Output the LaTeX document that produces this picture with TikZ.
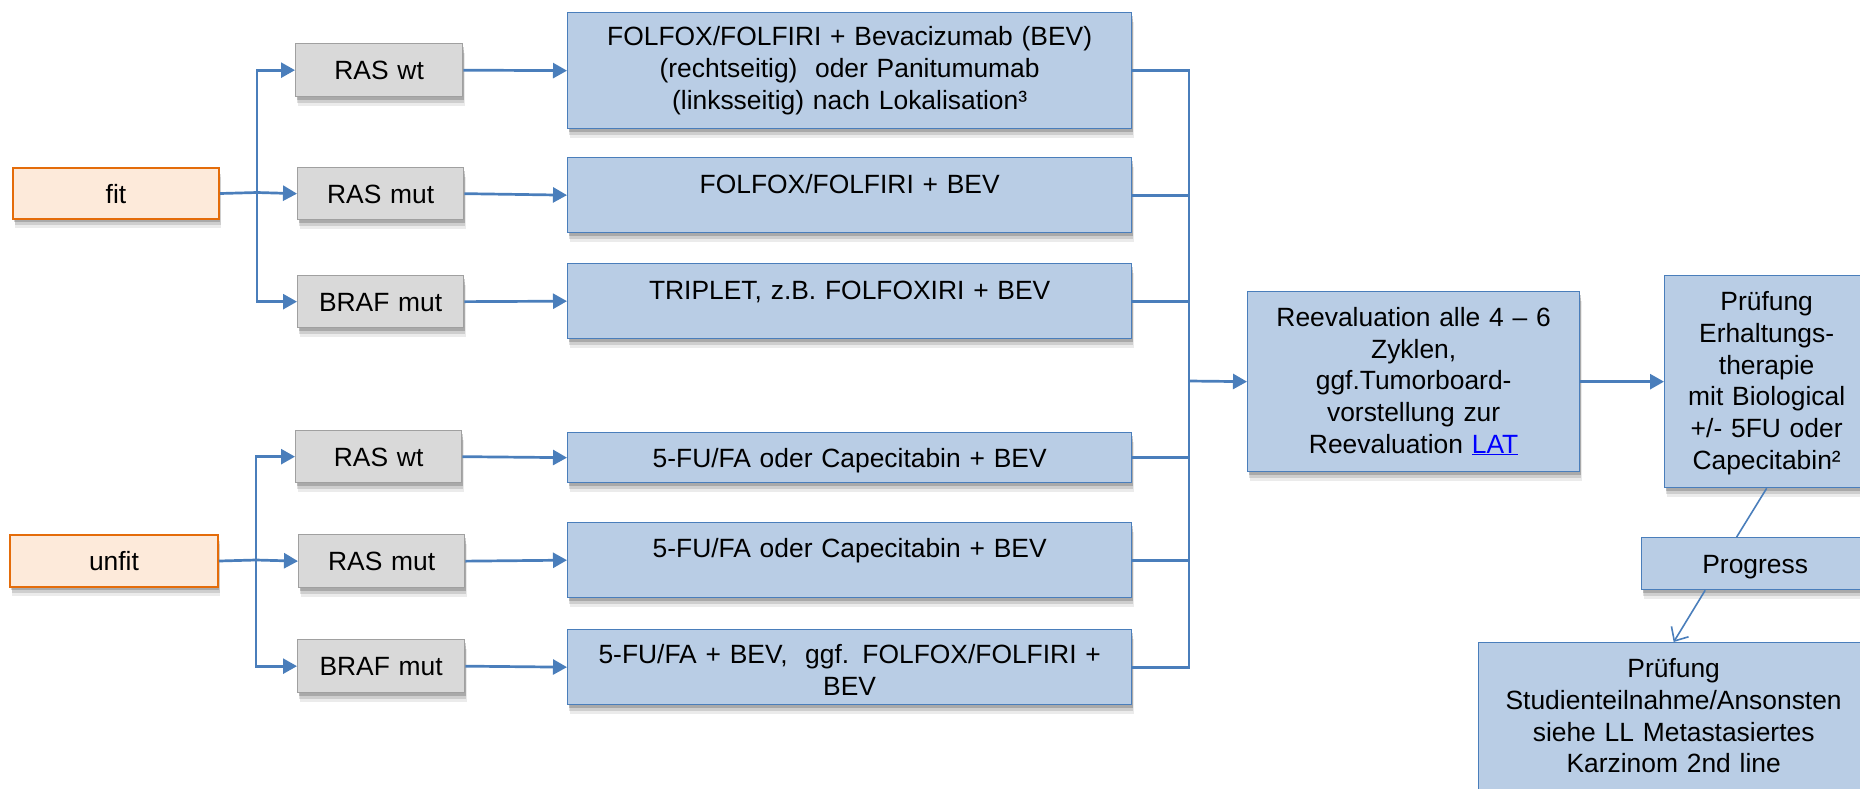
\documentclass[tikz,border=0pt]{standalone}
\usepackage{fontspec}
\setmainfont{Liberation Sans}
\usetikzlibrary{arrows.meta,shadows,calc}
\definecolor{bfill}{HTML}{B9CDE5}
\definecolor{bdraw}{HTML}{4A7EBB}
\definecolor{gfill}{HTML}{D9D9D9}
\definecolor{gdraw}{HTML}{A0A0A0}
\definecolor{ofill}{HTML}{FDEADA}
\definecolor{odraw}{HTML}{E46C0A}
\definecolor{cblue}{HTML}{4A7EBB}
\definecolor{lnk}{HTML}{0000FF}
\tikzset{
  basebox/.style={draw, line width=1.3pt, inner xsep=0pt, inner ysep=0pt,
    anchor=north west, align=center,
    font=\fontsize{26.4pt}{31.7pt}\selectfont,
    drop shadow={shadow xshift=2pt, shadow yshift=-9pt, opacity=0.08, fill=black},
    drop shadow={shadow xshift=1.5pt, shadow yshift=-6pt, opacity=0.12, fill=black},
    drop shadow={shadow xshift=1pt, shadow yshift=-3pt, opacity=0.18, fill=black}},
  bluebox/.style={basebox, fill=bfill, draw=bdraw},
  greybox/.style={basebox, fill=gfill, draw=gdraw},
  orangebox/.style={basebox, fill=ofill, draw=odraw, line width=2pt},
  conn/.style={draw=cblue, line width=2.7pt},
  arr/.style={conn, -{Triangle[length=14pt,width=15pt]}},
  thinconn/.style={draw=cblue, line width=1.6pt},
  openarr/.style={thinconn, -{Straight Barb[length=11pt,width=20pt]}}
}
\begin{document}
\begin{tikzpicture}[x=1pt,y=-1pt]
\useasboundingbox (0,0) rectangle (1860,788);

% fit group
\node[orangebox, text width=206pt, text height=35pt, text depth=16pt] (fit) at (12,167) {fit};
\node[greybox, text width=167pt, text height=36pt, text depth=17pt] (fRASwt) at (295,43) {RAS wt};
\node[greybox, text width=166pt, text height=35.5pt, text depth=16.5pt] (fRASmut) at (297,167) {RAS mut};
\node[greybox, text width=166pt, text height=35.5pt, text depth=16.5pt] (fBRAF) at (297,275) {BRAF mut};

\node[bluebox, text width=564pt, text height=33pt, text depth=83pt] (b1) at (567,12)
  {FOLFOX/FOLFIRI + Bevacizumab (BEV)\\(rechtseitig)\ \ oder Panitumumab\\(linksseitig) nach Lokalisation³};
\node[bluebox, text width=564pt, text height=36pt, text depth=39pt] (b2) at (567,157) {FOLFOX/FOLFIRI + BEV};
\node[bluebox, text width=564pt, text height=36pt, text depth=39pt] (b3) at (567,263) {TRIPLET, z.B. FOLFOXIRI + BEV};

% unfit group
\node[orangebox, text width=208pt, text height=35.5pt, text depth=16.5pt] (unfit) at (9,534) {unfit};
\node[greybox, text width=166pt, text height=35.5pt, text depth=16.5pt] (uRASwt) at (295,430) {RAS wt};
\node[greybox, text width=166pt, text height=36pt, text depth=17pt] (uRASmut) at (298,534) {RAS mut};
\node[greybox, text width=167pt, text height=36pt, text depth=17pt] (uBRAF) at (297,639) {BRAF mut};

\node[bluebox, text width=564pt, text height=35pt, text depth=15pt] (b4) at (567,432) {5-FU/FA oder Capecitabin + BEV};
\node[bluebox, text width=564pt, text height=35pt, text depth=40pt] (b5) at (567,522) {5-FU/FA oder Capecitabin + BEV};
\node[bluebox, text width=564pt, text height=34pt, text depth=41pt] (b6) at (567,629)
  {5-FU/FA + BEV,\ \ ggf. FOLFOX/FOLFIRI +\\BEV};

% right part
\node[bluebox, text width=332pt, text height=34.7pt, text depth=145.3pt] (reeval) at (1247,291)
  {Reevaluation alle 4 – 6\\Zyklen,\\ggf.Tumorboard-\\vorstellung zur\\Reevaluation \textcolor{lnk}{\underline{LAT}}};
\node[bluebox, text width=204pt, text height=35pt, text depth=177pt] (pruef) at (1664,275)
  {Prüfung\\Erhaltungs-\\therapie\\mit Biological\\+/- 5FU oder\\Capecitabin²};
\node[bluebox, text width=227pt, text height=36pt, text depth=16pt] (prog) at (1641,537) {Progress};
\node[bluebox, text width=390pt, text height=35pt, text depth=160pt] (final) at (1478,642)
  {Prüfung\\Studienteilnahme/Ansonsten\\siehe LL Metastasiertes\\Karzinom 2nd line};

% fit branching
\coordinate (fj) at (257,192.5);
\draw[conn] (fit.east) -- (fj);
\draw[arr] (fj) |- (fRASwt.west);
\draw[arr] (fj) -- (fRASmut.west);
\draw[arr] (fj) |- (fBRAF.west);
\draw[arr] (fRASwt.east) -- (b1.west);
\draw[arr] (fRASmut.east) -- (b2.west);
\draw[arr] (fBRAF.east) -- (b3.west);

% unfit branching
\coordinate (uj) at (256,560);
\draw[conn] (unfit.east) -- (uj);
\draw[arr] (uj) |- (uRASwt.west);
\draw[arr] (uj) -- (uRASmut.west);
\draw[arr] (uj) |- (uBRAF.west);
\draw[arr] (uRASwt.east) -- (b4.west);
\draw[arr] (uRASmut.east) -- (b5.west);
\draw[arr] (uBRAF.east) -- (b6.west);

% collector
\coordinate (cx) at (1189,381);
\foreach \b in {b1,b2,b3,b4,b5,b6}{
  \draw[conn] (\b.east) -- (\b.east -| cx);
}
\draw[conn, line cap=rect] (b1.east -| cx) -- (b6.east -| cx);
\draw[arr] (cx) -- (reeval.west);
\draw[arr] (reeval.east) -- (pruef.west);

% lower right
\draw[thinconn] (pruef.south) -- ([xshift=-18.5pt]prog.north);
\draw[openarr] ([xshift=-50pt]prog.south) -- (final.north);
\end{tikzpicture}
\end{document}
